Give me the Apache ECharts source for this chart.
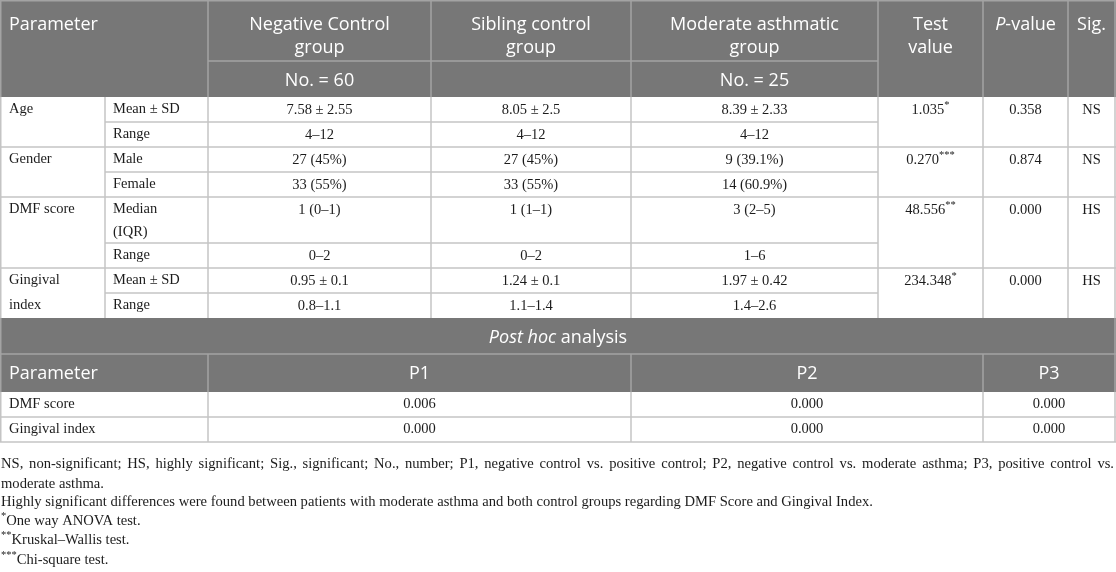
<!DOCTYPE html>
<html><head><meta charset="utf-8">
<script src="https://cdn.jsdelivr.net/npm/echarts@6/dist/echarts.min.js"></script>
<style>html,body{margin:0;padding:0;background:#fff}#c{width:1116px;height:572px}</style>
</head><body><div id="c"></div>
<script>
// ---------- data ----------
const groupNames = ['Negative Control\ngroup', 'Sibling control\ngroup', 'Moderate asthmatic\ngroup'];
const groupCounts = ['No. = 60', '', 'No. = 25'];
const parameters = ['Age', 'Gender', 'DMF score', 'Gingival\nindex'];
const subLabels = ['Mean ± SD', 'Range', 'Male', 'Female', 'Median\n(IQR)', 'Range', 'Mean ± SD', 'Range'];
const negativeControl = ['7.58 ± 2.55', '4–12', '27 (45%)', '33 (55%)', '1 (0–1)', '0–2', '0.95 ± 0.1', '0.8–1.1'];
const siblingControl = ['8.05 ± 2.5', '4–12', '27 (45%)', '33 (55%)', '1 (1–1)', '0–2', '1.24 ± 0.1', '1.1–1.4'];
const moderateAsthma = ['8.39 ± 2.33', '4–12', '9 (39.1%)', '14 (60.9%)', '3 (2–5)', '1–6', '1.97 ± 0.42', '1.4–2.6'];
const testValues = ['1.035', '0.270', '48.556', '234.348'];
const testMarks = ['*', '***', '**', '*'];
const pValues = ['0.358', '0.874', '0.000', '0.000'];
const significance = ['NS', 'NS', 'HS', 'HS'];
const postHocParams = ['DMF score', 'Gingival index'];
const postHocP1 = ['0.006', '0.000'];
const postHocP2 = ['0.000', '0.000'];
const postHocP3 = ['0.000', '0.000'];
const footLine1 = 'NS, non-significant; HS, highly significant; Sig., significant; No., number; P1, negative control vs. positive control; P2, negative control vs. moderate asthma; P3, positive control vs.';
const footLine2 = 'moderate asthma.';
const footLine3 = 'Highly significant differences were found between patients with moderate asthma and both control groups regarding DMF Score and Gingival Index.';
const testNotes = [['*', 'One way ANOVA test.'], ['**', 'Kruskal–Wallis test.'], ['***', 'Chi-square test.']];

// ---------- layout ----------
const W = 1116;
const colX = [0, 105, 208, 431, 631, 878, 983, 1068, 1115];
const headMid = 61, headBot = 97;
const rowY = [97, 122, 147, 172, 197, 243, 268, 293, 318];
const groupStart = [0, 2, 4, 6];
const postY = [318, 354, 392, 417, 442];
const postColX = [0, 208, 631, 983, 1115];
const footY = [464, 484, 502];
const noteY = [521, 540, 560];
const HEAD_BG = '#777777', HEAD_LINE = '#a3a3a3', BODY_LINE = '#c4c4c4';
const TXT = '#1c1c1c';
const SANS = "'Open Sans', 'Noto Sans', sans-serif";
const SERIF = "'Liberation Serif', 'DejaVu Serif', serif";
const BODY_FS = 14.5, HEAD_FS = 18, FOOT_FS = 14.6;

const els = [];
function rect(x, y, w, h, fill) { els.push({ type: 'rect', shape: { x, y, width: w, height: h }, style: { fill }, silent: true }); }
function line(x1, y1, x2, y2, color) { els.push({ type: 'line', shape: { x1, y1, x2, y2 }, style: { stroke: color, lineWidth: 1.5 }, silent: true, z: 5 }); }
function text(t, x, y, o) {
  o = o || {};
  const st = {
    text: t, fill: o.fill || TXT,
    fontSize: o.fs || BODY_FS, fontFamily: o.ff || SERIF, fontStyle: o.italic ? 'italic' : 'normal',
    align: o.align || 'left', textAlign: o.align || 'left',
    verticalAlign: o.va || 'middle', textVerticalAlign: o.va || 'middle',
    lineHeight: o.lh || 20
  };
  if (o.rich) st.rich = o.rich;
  els.push({ type: 'text', x, y, style: st, silent: true, z: 10 });
}
const mid = (a, b) => (a + b) / 2;

// backgrounds
rect(0, 0, W, headBot, HEAD_BG);
rect(0, postY[0], W, postY[2] - postY[0], HEAD_BG);

// header lines
[2, 3, 4, 5, 6, 7].forEach(i => line(colX[i], 0, colX[i], headBot, HEAD_LINE));
line(colX[2], headMid, colX[5], headMid, HEAD_LINE);
line(0, 0.75, W, 0.75, HEAD_LINE);
line(0.75, 0, 0.75, headBot, HEAD_LINE);
line(W - 1, 0, W - 1, headBot, HEAD_LINE);

// header texts
const headRich = { i: { fontStyle: 'italic', fontSize: HEAD_FS, fontFamily: SANS, fill: '#fff' }, n: { fontSize: HEAD_FS, fontFamily: SANS, fill: '#fff' } };
text('Parameter', 9, 25, { fill: '#fff', fs: HEAD_FS, ff: SANS });
groupNames.forEach((g, i) => text(g, mid(colX[2 + i], colX[3 + i]), 13.5, { fill: '#fff', fs: HEAD_FS, ff: SANS, align: 'center', va: 'top', lh: 23 }));
groupCounts.forEach((g, i) => { if (g) text(g, mid(colX[2 + i], colX[3 + i]), 81, { fill: '#fff', fs: HEAD_FS, ff: SANS, align: 'center' }); });
text('Test\nvalue', mid(colX[5], colX[6]), 13.5, { fill: '#fff', fs: HEAD_FS, ff: SANS, align: 'center', va: 'top', lh: 23 });
text('{i|P}{n|-value}', mid(colX[6], colX[7]), 25, { fill: '#fff', fs: HEAD_FS, ff: SANS, align: 'center', rich: headRich });
text('Sig.', mid(colX[7], colX[8]), 25, { fill: '#fff', fs: HEAD_FS, ff: SANS, align: 'center' });

// body lines
for (let r = 1; r < rowY.length - 1; r++) {
  if (groupStart.indexOf(r) >= 0) line(0, rowY[r], W, rowY[r], BODY_LINE);
  else line(colX[1], rowY[r], colX[5], rowY[r], BODY_LINE);
}
colX.forEach((x, i) => {
  const xx = i === 0 ? 0.75 : (i === colX.length - 1 ? W - 1 : x);
  line(xx, rowY[0], xx, rowY[rowY.length - 1], BODY_LINE);
});

// body texts
const supRich = {
  v: { fontSize: BODY_FS, fontFamily: SERIF, fill: TXT, lineHeight: 20 },
  s: { fontSize: 10.5, fontFamily: SERIF, fill: TXT, verticalAlign: 'top', lineHeight: 11 }
};
parameters.forEach((p, g) => {
  const top = rowY[groupStart[g]];
  text(p, 9, top, { va: 'top', lh: 25 });
  text('{v|' + testValues[g] + '}{s|' + testMarks[g] + '}', mid(colX[5], colX[6]), top + 13, { align: 'center', rich: supRich });
  text(pValues[g], mid(colX[6], colX[7]), top + 13, { align: 'center' });
  text(significance[g], mid(colX[7], colX[8]), top + 13, { align: 'center' });
});
subLabels.forEach((s, r) => {
  const top = rowY[r];
  text(s, 113, top + 1, { va: 'top', lh: 23 });
  [negativeControl, siblingControl, moderateAsthma].forEach((arr, c) => {
    text(arr[r], mid(colX[2 + c], colX[3 + c]), top + 13, { align: 'center' });
  });
});

// post hoc
line(0, postY[1], W, postY[1], HEAD_LINE);
[1, 2, 3].forEach(i => line(postColX[i], postY[1], postColX[i], postY[2], HEAD_LINE));
line(0.75, postY[0], 0.75, postY[2], HEAD_LINE);
line(W - 1, postY[0], W - 1, postY[2], HEAD_LINE);
text('{i|Post hoc}{n| analysis}', 558, 338, { align: 'center', fill: '#fff', rich: headRich });
text('Parameter', 9, mid(postY[1], postY[2]) + 1, { fill: '#fff', fs: HEAD_FS, ff: SANS });
['P1', 'P2', 'P3'].forEach((p, i) => text(p, mid(postColX[1 + i], postColX[2 + i]), mid(postY[1], postY[2]) + 1, { fill: '#fff', fs: HEAD_FS, ff: SANS, align: 'center' }));
line(0, postY[3], W, postY[3], BODY_LINE);
line(0, postY[4], W, postY[4], BODY_LINE);
postColX.forEach((x, i) => { const xx = i === 0 ? 0.75 : (i === postColX.length - 1 ? W - 1 : x); line(xx, postY[2], xx, postY[4], BODY_LINE); });
postHocParams.forEach((p, r) => {
  const cy = mid(postY[2 + r], postY[3 + r]);
  text(p, 9, cy, {});
  [postHocP1, postHocP2, postHocP3].forEach((arr, c) => text(arr[r], mid(postColX[1 + c], postColX[2 + c]), cy, { align: 'center' }));
});

// footnotes (first line justified like the source)
const ctx = document.createElement('canvas').getContext('2d');
ctx.font = FOOT_FS + 'px ' + SERIF;
const words = footLine1.split(' ');
const wordW = words.map(w => ctx.measureText(w).width);
const totalWords = wordW.reduce((a, b) => a + b, 0);
const x0 = 1, x1 = 1114;
const gap = (x1 - x0 - totalWords) / (words.length - 1);
let cx = x0;
words.forEach((w, i) => { text(w, cx, footY[0], { fs: FOOT_FS }); cx += wordW[i] + gap; });
text(footLine2, x0, footY[1], { fs: FOOT_FS });
text(footLine3, x0, footY[2], { fs: FOOT_FS });
const noteRich = {
  s: { fontSize: 10.5, fontFamily: SERIF, fill: TXT, verticalAlign: 'top', lineHeight: 11 },
  v: { fontSize: FOOT_FS, fontFamily: SERIF, fill: TXT, lineHeight: 20 }
};
testNotes.forEach((n, i) => text('{s|' + n[0] + '}{v|' + n[1] + '}', x0, noteY[i], { fs: FOOT_FS, rich: noteRich }));

const chart = echarts.init(document.getElementById('c'), null, { renderer: 'canvas' });
chart.setOption({ animation: false, backgroundColor: '#fff', graphic: { elements: els } });
</script>
</body></html>
